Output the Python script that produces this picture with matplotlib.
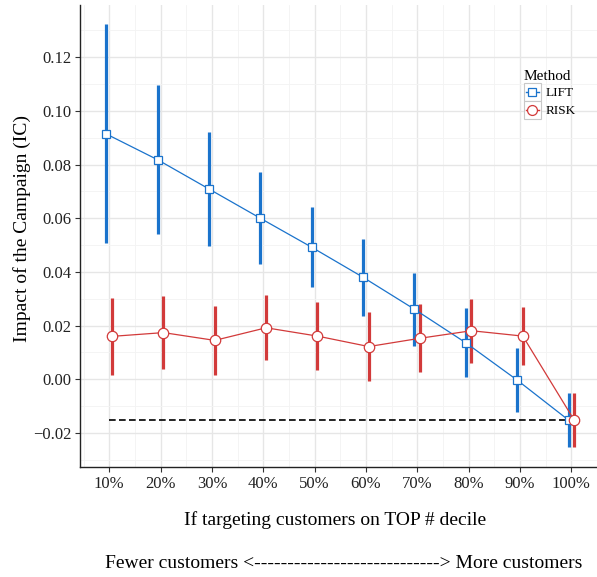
import numpy as np
import matplotlib
matplotlib.use('Agg')
import matplotlib.pyplot as plt
from matplotlib.lines import Line2D
from matplotlib.patches import Rectangle
from matplotlib.legend_handler import HandlerBase

deciles = ['10%', '20%', '30%', '40%', '50%', '60%', '70%', '80%', '90%', '100%']

lift_mean = [0.0914, 0.0818, 0.0709, 0.0600, 0.0492, 0.0380, 0.0261, 0.0136, -0.0003, -0.0152]
lift_low = [0.0509, 0.0540, 0.0498, 0.0430, 0.0343, 0.0237, 0.0125, 0.0007, -0.0121, -0.0253]
lift_high = [0.1323, 0.1097, 0.0920, 0.0771, 0.0641, 0.0522, 0.0395, 0.0265, 0.0116, -0.0050]

risk_mean = [0.0160, 0.0174, 0.0145, 0.0192, 0.0161, 0.0122, 0.0153, 0.0181, 0.0161, -0.0152]
risk_low = [0.0016, 0.0037, 0.0016, 0.0071, 0.0035, -0.0006, 0.0028, 0.0062, 0.0053, -0.0253]
risk_high = [0.0304, 0.0310, 0.0274, 0.0315, 0.0287, 0.0252, 0.0280, 0.0298, 0.0271, -0.0050]

baseline = -0.0152

BLUE = '#1a73cc'
RED = '#d23a3a'

plt.rcParams['font.family'] = ['Liberation Serif', 'DejaVu Serif']
plt.rcParams['axes.unicode_minus'] = True

fig = plt.figure(figsize=(5.97, 5.77), dpi=100)
ax = fig.add_axes([80/597, 1 - 467.3/577, 1 - 80/597, (467.3 - 5)/577])

x = np.arange(1, len(deciles) + 1)
dodge = 0.055


def draw_series(xs, mean, low, high, color, marker, ms, label):
    mean = np.array(mean)
    ax.vlines(xs, low, high, color=color, lw=2.3, zorder=3)
    ax.plot(xs, mean, color=color, lw=0.9, zorder=4)
    ax.plot(xs, mean, ls='none', marker=marker, ms=ms, mfc='white', mec=color,
            mew=0.9, zorder=5, label=label)


ax.plot([x[0], x[-1]], [baseline, baseline], color='black', lw=1.2,
        ls=(0, (4, 2)), zorder=2.5)

draw_series(x - dodge, lift_mean, lift_low, lift_high, BLUE, 's', 6.2, 'LIFT')
draw_series(x + dodge, risk_mean, risk_low, risk_high, RED, 'o', 7.5, 'RISK')

ax.set_xlim(0.43, 10.44)
ax.set_ylim(-0.0328, 0.1395)
ax.set_xticks(x)
ax.set_xticklabels(deciles)
ax.set_xticks(np.arange(0.5, 11, 1), minor=True)
yt = np.arange(-0.02, 0.121, 0.02)
ax.set_yticks(yt)
ax.set_yticklabels([('%.2f' % v).replace('-', '\u2212') if abs(v) > 1e-9 else '0.00' for v in yt])
ax.set_yticks(np.arange(-0.03, 0.14, 0.02), minor=True)

ax.grid(which='major', color='#e6e6e6', lw=1.0, zorder=0)
ax.grid(which='minor', color='#f3f3f3', lw=0.6, zorder=0)
ax.set_axisbelow(True)

for s in ['top', 'right']:
    ax.spines[s].set_visible(False)
for s in ['left', 'bottom']:
    ax.spines[s].set_color('#222222')
    ax.spines[s].set_linewidth(1.0)

ax.tick_params(which='major', direction='out', length=3.5, width=0.8, color='#333333',
               labelsize=12, labelcolor='#222222', pad=2.5)
ax.tick_params(which='minor', length=0)

fig.text(22/597, 1 - 228/577, 'Impact of the Campaign (IC)', rotation=90,
         ha='center', va='center', fontsize=14)
fig.text(335/597, 1 - 520/577, 'If targeting customers on TOP # decile',
         ha='center', va='center', fontsize=14)
fig.text(344/597, 1 - 563/577,
         'Fewer customers <' + '-' * 28 + '> More customers',
         ha='center', va='center', fontsize=14)


class KeyHandler(HandlerBase):
    def create_artists(self, legend, orig_handle, xdescent, ydescent,
                       width, height, fontsize, trans):
        box = Rectangle((-xdescent, -ydescent), width, height, fc='white',
                        ec='#c8c8c8', lw=0.8, transform=trans)
        yc = -ydescent + height / 2
        ln = Line2D([-xdescent + 1.5, -xdescent + width - 1.5], [yc, yc],
                    color=orig_handle.get_mec(), lw=1.0, transform=trans)
        mk = Line2D([-xdescent + width / 2], [yc], ls='none',
                    marker=orig_handle.get_marker(), ms=orig_handle.get_markersize() * 0.95,
                    mfc='white', mec=orig_handle.get_mec(), mew=0.9, transform=trans)
        return [box, ln, mk]


handles = [h for h in ax.get_lines() if h.get_label() in ('LIFT', 'RISK')]
leg = ax.legend(handles=handles, labels=['LIFT', 'RISK'], title='Method',
                handler_map={Line2D: KeyHandler()}, loc='upper left',
                bbox_to_anchor=(0.84, 0.88), frameon=False, fontsize=9.5,
                title_fontsize=11, handlelength=1.3, handleheight=1.75,
                handletextpad=0.35, labelspacing=0.0, borderpad=0.2)
leg._legend_box.align = 'left'

fig.savefig('out.png', dpi=100)
